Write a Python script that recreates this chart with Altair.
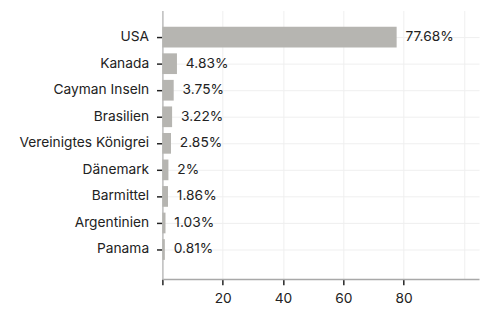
import altair as alt
import pandas as pd

countries = ["USA", "Kanada", "Cayman Inseln", "Brasilien", "Vereinigtes Königrei",
             "Dänemark", "Barmittel", "Argentinien", "Panama"]
shares = [77.68, 4.83, 3.75, 3.22, 2.85, 2.0, 1.86, 1.03, 0.81]
x_ticks = [0, 20, 40, 60, 80, 100]

df = pd.DataFrame({"country": countries, "share": shares})

FONT = "Inter"
FS = 14

y_enc = alt.Y("country:N", sort=countries, title=None,
              scale=alt.Scale(paddingInner=0.22, paddingOuter=0.666, align=0.46),
              axis=alt.Axis(grid=True, gridColor="#efefef", domainColor="#bdbdbd",
                            domainWidth=1.5, tickColor="#222", tickSize=6, tickWidth=1.5,
                            labelPadding=8, labelFont=FONT, labelFontSize=FS,
                            labelColor="#222"))
x_enc = alt.X("share:Q", title=None,
              scale=alt.Scale(domain=[0, 105], nice=False),
              axis=alt.Axis(values=x_ticks, grid=True, gridColor="#efefef",
                            domainColor="#a8a8a8", domainWidth=1.5,
                            tickColor={"condition": {"test": "datum.value >= 100", "value": "transparent"}, "value": "#222"},
                            tickSize=6, tickWidth=1.5, labelPadding=7,
                            labelExpr="(datum.value == 0 || datum.value >= 100) ? '' : datum.label",
                            labelFont=FONT, labelFontSize=FS, labelColor="#222"))

bars = alt.Chart(df).mark_bar(color="#b6b5b1").encode(x=x_enc, y=y_enc)
labels = alt.Chart(df).transform_calculate(
    lab="datum.share + '%'"
).mark_text(align="left", baseline="middle", dx=9, font=FONT, fontSize=FS,
            color="#222").encode(x="share:Q", y=alt.Y("country:N", sort=countries), text="lab:N")

chart = (bars + labels).properties(
    width=322, height=273,
    autosize=alt.AutoSizeParams(type="none"),
    padding={"left": 157, "top": 0, "right": 2, "bottom": 30},
).configure_view(stroke=None)

chart.save("out.html", embed_options={"renderer": "svg", "actions": False})
